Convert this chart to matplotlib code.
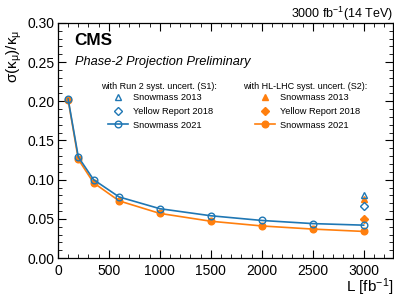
import matplotlib
matplotlib.use("Agg")
import matplotlib.pyplot as plt
from matplotlib.lines import Line2D
from matplotlib.ticker import MultipleLocator

BLUE, ORANGE = "#1f77b4", "#ff7f0e"
plt.rcParams.update({
    "font.family": ["Liberation Sans", "DejaVu Sans"],
    "mathtext.fontset": "custom", "mathtext.rm": "Liberation Sans",
    "mathtext.it": "Liberation Sans:italic",
    "xtick.direction": "in", "ytick.direction": "in",
    "xtick.top": True, "ytick.right": True,
})

# luminosity scan (fb^-1)
lumi = [100, 200, 350, 600, 1000, 1500, 2000, 2500, 3000]
s21_s1 = [0.203, 0.129, 0.100, 0.078, 0.063, 0.054, 0.048, 0.044, 0.042]
s21_s2 = [0.202, 0.126, 0.096, 0.073, 0.057, 0.047, 0.041, 0.037, 0.034]
# older projections, only at 3000 fb^-1
old_lumi = [3000]
sm13_s1, sm13_s2 = [0.080], [0.076]
yr18_s1, yr18_s2 = [0.067], [0.050]
labels = ["Snowmass 2013", "Yellow Report 2018", "Snowmass 2021"]

fig = plt.figure(figsize=(3.94, 2.97), dpi=100)
ax = fig.add_axes([0.147, 0.131, 0.851, 0.792])

ax.plot(lumi, s21_s2, color=ORANGE, lw=1.2, marker="o", ms=4.8, zorder=3)
ax.plot(lumi, s21_s1, color=BLUE, lw=1.2, marker="o", ms=4.8, mfc="none", mew=1.0, zorder=4)
ax.plot(old_lumi, sm13_s2, ls="none", marker="^", ms=5, color=ORANGE, zorder=3)
ax.plot(old_lumi, yr18_s2, ls="none", marker="D", ms=4, color=ORANGE, zorder=3)
ax.plot(old_lumi, sm13_s1, ls="none", marker="^", ms=5, mfc="none", mec=BLUE, mew=1.0, zorder=4)
ax.plot(old_lumi, yr18_s1, ls="none", marker="D", ms=4, mfc="none", mec=BLUE, mew=1.0, zorder=4)

ax.set_xlim(0, 3290)
ax.set_ylim(0, 0.30)
ax.xaxis.set_major_locator(MultipleLocator(500))
ax.xaxis.set_minor_locator(MultipleLocator(100))
ax.yaxis.set_major_locator(MultipleLocator(0.05))
ax.yaxis.set_minor_locator(MultipleLocator(0.01))
ax.yaxis.set_major_formatter(lambda v, p: f"{v:.2f}")
ax.tick_params(which="major", length=6, width=0.8, labelsize=10)
ax.tick_params(which="minor", length=3, width=0.6)
ax.tick_params(axis="x", pad=4.5)
ax.tick_params(axis="y", pad=2.5)
for s in ax.spines.values():
    s.set_linewidth(0.9)

fig.text(0.998, 1 - 292.5 / 297, r"L [fb$^{-1}$]", fontsize=11, ha="right", va="baseline")
fig.text(14 / 394, 1 - 56 / 297, r"σ(κ$_\mathregular{μ}$)/κ$_\mathregular{μ}$", fontsize=11,
         rotation=90, ha="center", va="center")

ax.text(0.05, 0.955, "CMS", transform=ax.transAxes, fontsize=12.3, fontweight="bold", va="top")
ax.text(0.05, 0.86, "Phase-2 Projection Preliminary", transform=ax.transAxes,
        fontsize=9.2, style="italic", va="top")
ax.text(1.0, 1.022, r"3000 fb$^{-1}$(14 TeV)", transform=ax.transAxes,
        fontsize=9, ha="right", va="baseline")

h1 = [Line2D([], [], ls="none", marker="^", ms=5, mfc="none", mec=BLUE, mew=1.0),
      Line2D([], [], ls="none", marker="D", ms=4, mfc="none", mec=BLUE, mew=1.0),
      Line2D([], [], color=BLUE, lw=1.2, marker="o", ms=4.8, mfc="none", mew=1.0)]
h2 = [Line2D([], [], ls="none", marker="^", ms=5, color=ORANGE),
      Line2D([], [], ls="none", marker="D", ms=4, color=ORANGE),
      Line2D([], [], color=ORANGE, lw=1.2, marker="o", ms=4.8)]
kw = dict(frameon=False, fontsize=6.7, handlelength=2.15,
          handletextpad=0.55, labelspacing=0.5, borderpad=0, borderaxespad=0,
          loc="upper left")
ax.text(0.13, 0.728, "with Run 2 syst. uncert. (S1):", transform=ax.transAxes,
        fontsize=6.5, va="center")
ax.text(0.552, 0.728, "with HL-LHC syst. uncert. (S2):", transform=ax.transAxes,
        fontsize=6.5, va="center")
leg1 = ax.legend(h1, labels, bbox_to_anchor=(0.149, 0.70), **kw)
ax.add_artist(leg1)
ax.legend(h2, labels, bbox_to_anchor=(0.588, 0.70), **kw)

fig.savefig("out.png", dpi=100)
